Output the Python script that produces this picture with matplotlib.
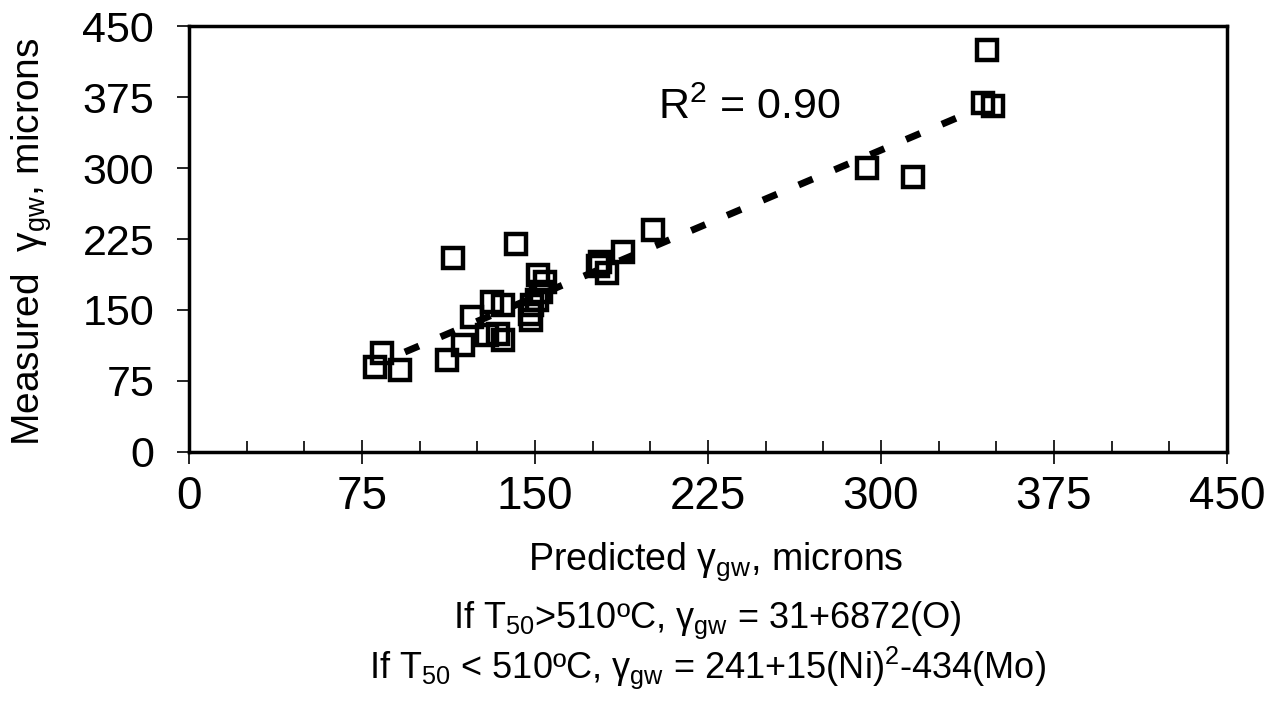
import numpy as np
import matplotlib.pyplot as plt
from matplotlib.ticker import MultipleLocator

# predicted vs measured grain width (microns)
predicted = [345.9, 344.2, 348.5, 293.9, 313.8, 201.1, 188.1, 177.3, 178.2, 181.2,
             151.3, 154.3, 152.6, 150.8, 148.7, 147.8, 148.2, 141.7, 114.4, 131.3,
             136.1, 122.7, 129.2, 136.1, 133.9, 118.8, 111.8, 83.7, 80.6, 91.5]
measured = [424.5, 368.5, 365.4, 299.9, 290.4, 234.4, 211.2, 196.4, 200.6, 189.0,
            186.9, 179.5, 169.0, 160.5, 155.2, 145.7, 139.4, 219.6, 204.9, 158.4,
            155.2, 142.6, 123.5, 118.3, 124.6, 113.0, 97.1, 104.5, 89.8, 86.6]

# regression line end points
fit_x = [93.6, 340.7]
fit_y = [105.6, 361.0]

ticks = [0, 75, 150, 225, 300, 375, 450]

plt.rcParams['font.family'] = ['Liberation Sans', 'DejaVu Sans']

fig = plt.figure(figsize=(12.81, 7.07), dpi=100)
ax = fig.add_axes([0.1475, 0.3607, 0.8103, 0.6025])

ax.plot(fit_x, fit_y, color='black', lw=5, dashes=(2.2, 3.4),
        dash_capstyle='butt', zorder=2)
ax.plot(predicted, measured, 's', ms=14, mfc='none', mec='black', mew=3.2, zorder=3)

ax.set_xlim(0, 450)
ax.set_ylim(0, 450)
ax.set_xticks(ticks)
ax.set_yticks(ticks)
ax.xaxis.set_minor_locator(MultipleLocator(25))

for s in ax.spines.values():
    s.set_linewidth(2.5)

ax.tick_params(axis='x', which='major', direction='inout', length=17, width=1.2, pad=8,
               labelsize=33)
ax.tick_params(axis='x', which='minor', direction='in', length=8, width=1.2)
ax.tick_params(axis='y', which='major', direction='out', length=9, width=1.2, pad=16,
               labelsize=31)

ax.text(243, 352, 'R$^\\mathdefault{2}$ = 0.90', fontsize=31, ha='center', va='baseline')

fig.text(32 / 1281, 1 - 242 / 707, 'Measured  γ$_\\mathdefault{gw}$, microns', rotation=90,
         ha='center', va='center', fontsize=28)
fig.text(716 / 1281, 1 - 562 / 707, 'Predicted γ$_\\mathdefault{gw}$, microns',
         ha='center', va='center', fontsize=27)
fig.text(707 / 1281, 1 - 620 / 707,
         'If T$_\\mathdefault{50}$>510ºC, γ$_\\mathdefault{gw}$ = 31+6872(O)',
         ha='center', va='center', fontsize=26)
fig.text(707 / 1281, 1 - 668 / 707,
         'If T$_\\mathdefault{50}$ < 510ºC, γ$_\\mathdefault{gw}$ = 241+15(Ni)$^\\mathdefault{2}$-434(Mo)',
         ha='center', va='center', fontsize=26)

fig.savefig('out.png', dpi=100)
plt.close()
